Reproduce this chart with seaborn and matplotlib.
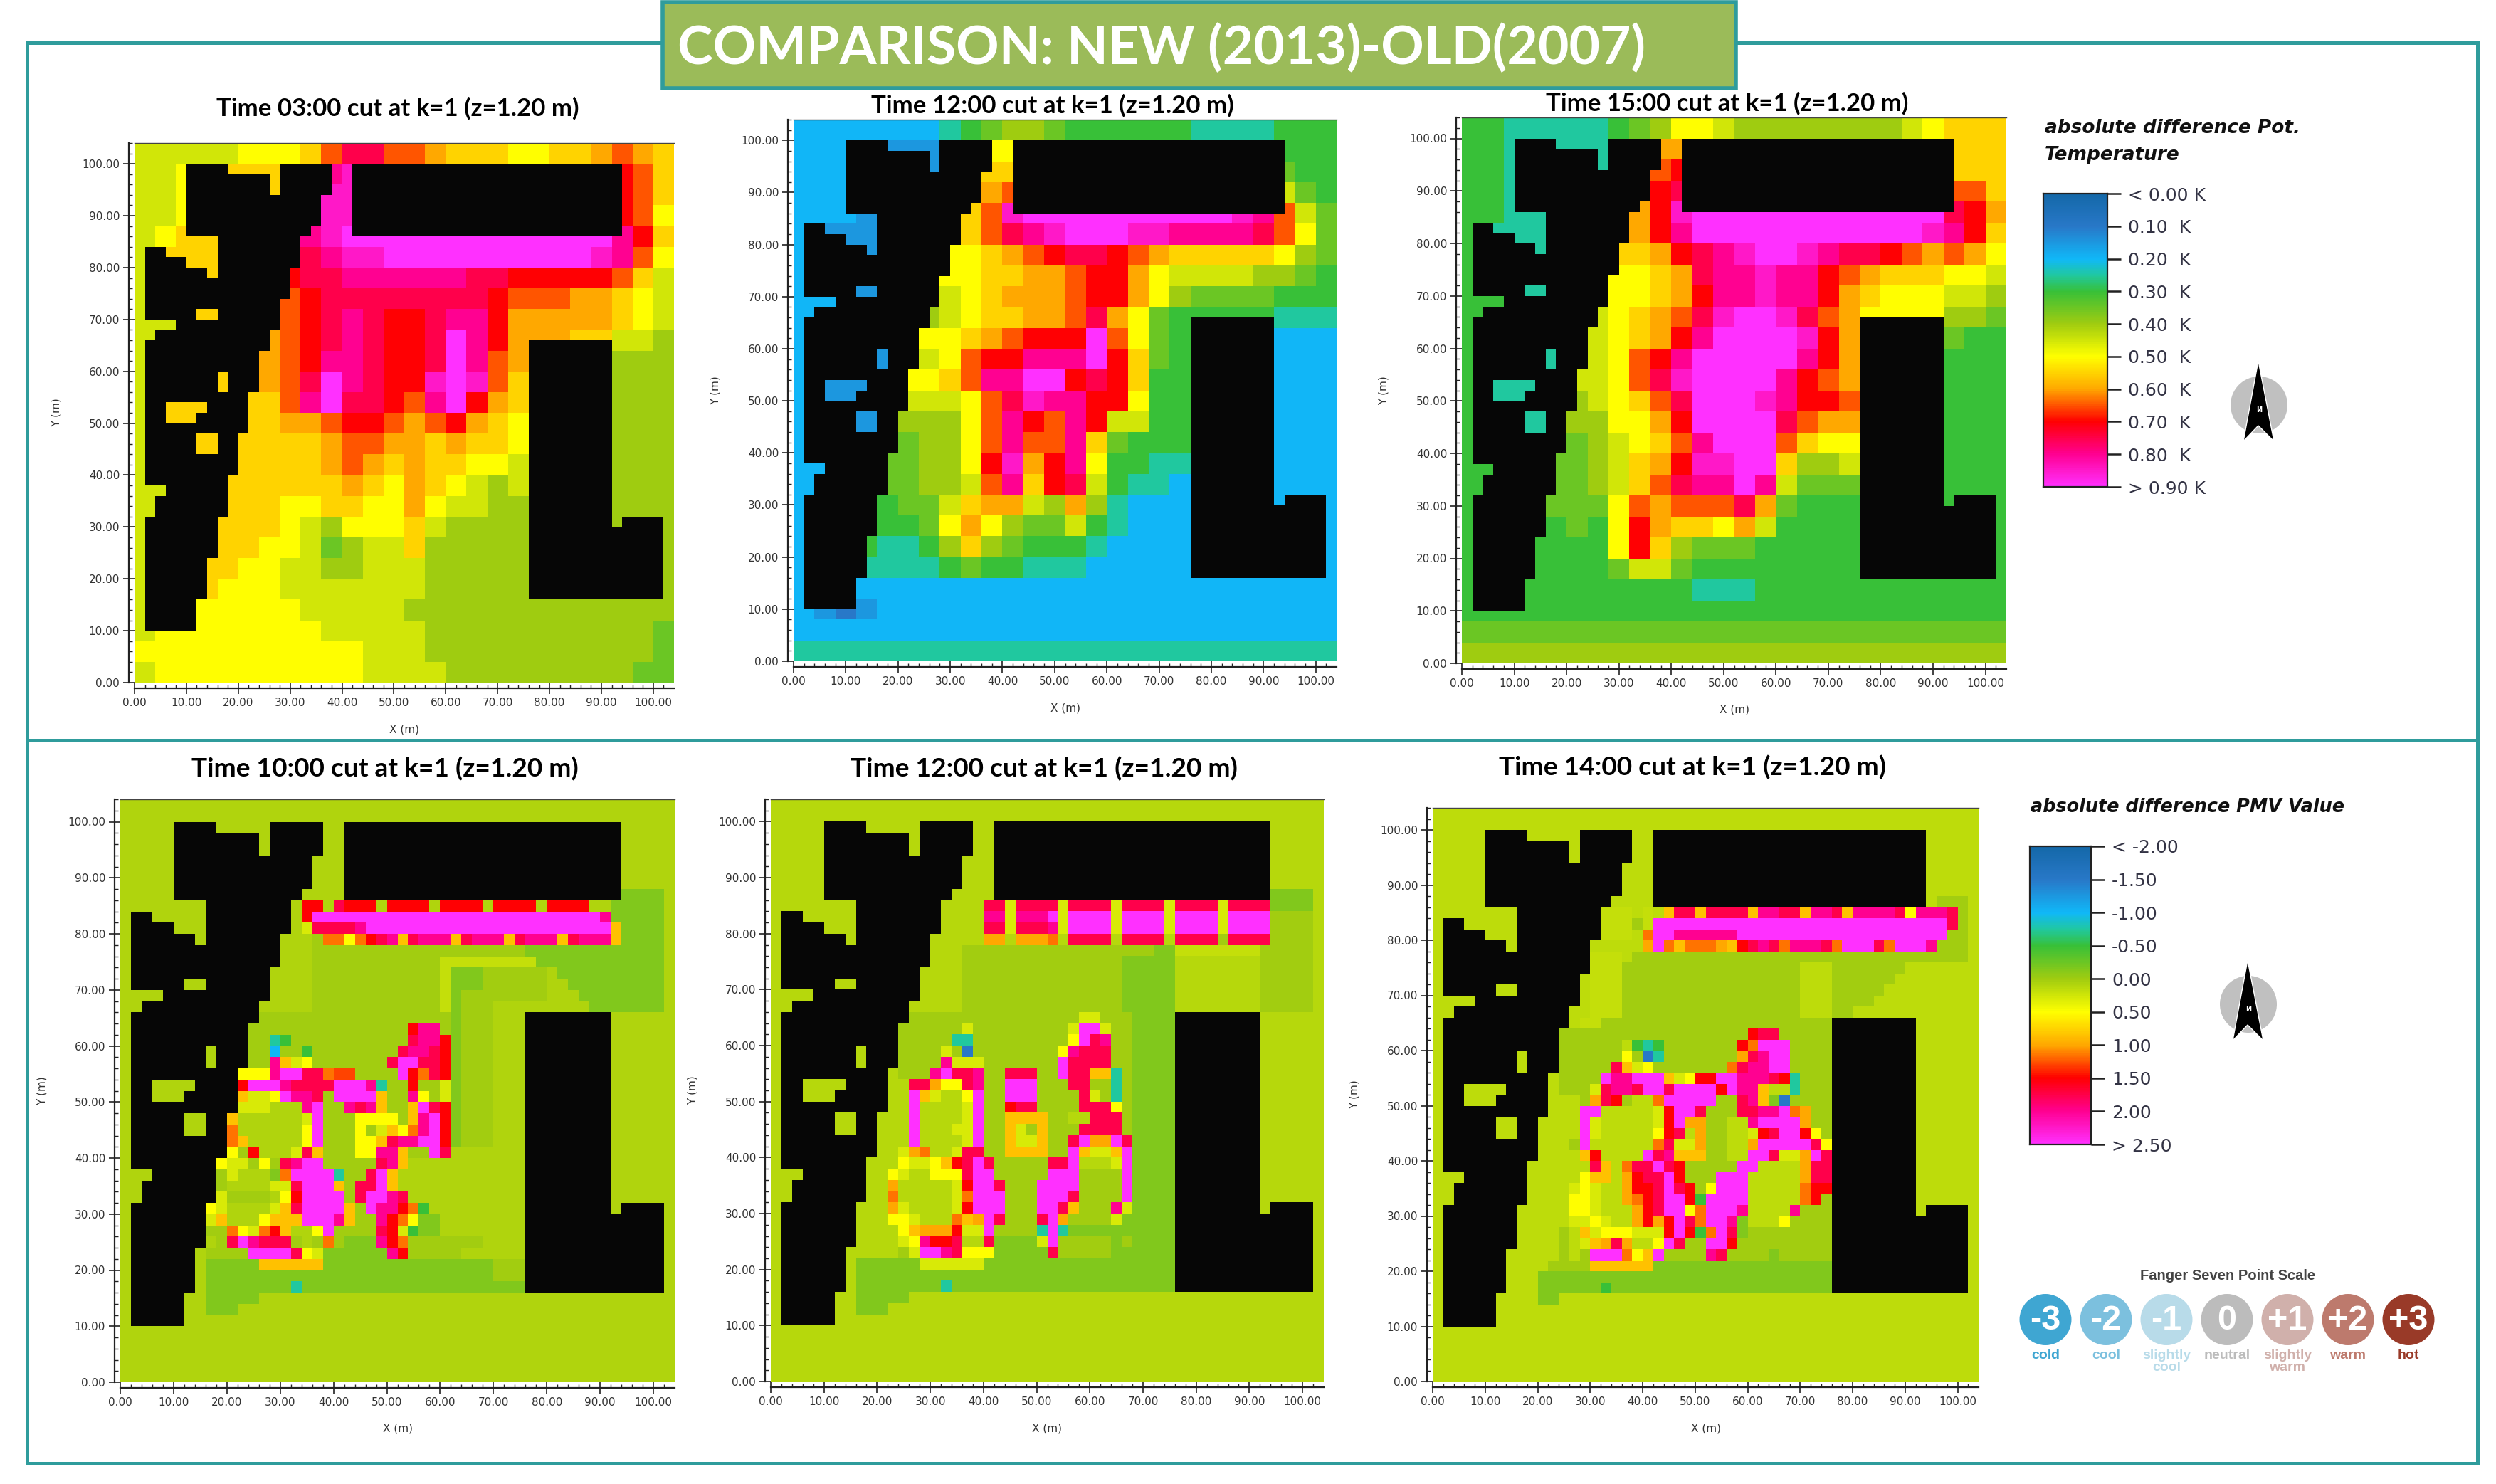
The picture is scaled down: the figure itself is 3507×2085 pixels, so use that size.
import numpy as np
import matplotlib
matplotlib.use("Agg")
import matplotlib.pyplot as plt
from matplotlib.colors import LinearSegmentedColormap
from matplotlib.patches import Rectangle, Circle, Ellipse, Polygon
import seaborn as sns

# building footprint, 2 m cells, row 0 is y=104..102, '#' is a building
building_rows = [
    "", "",
    ".....####. ....#####. .######### ########## #######",
    ".....##### ###.#####. .######### ########## #######",
    ".....##### ###.#####. .######### ########## #######",
    ".....##### ########.. .######### ########## #######",
    ".....##### ########.. .######### ########## #######",
    ".....##### ########.. .######### ########## #######",
    ".....##### #######... .######### ########## #######",
    "........## ######",
    ".##.....## ######",
    ".####...## ######",
    ".######.## #####",
    ".######### #####",
    ".######### #####",
    ".######### ####",
    ".#####..## ####",
    "....###### ####",
    "..######## ###",
    ".######### ###....... .......... ........## ######",
    ".######### ##........ .......... ........## ######",
    ".######### ##........ .......... ........## ######",
    ".#######.# ##........ .......... ........## ######",
    ".#######.# ##........ .......... ........## ######",
    ".######### #......... .......... ........## ######",
    ".##....### #......... .......... ........## ######",
    ".##...#### #......... .......... ........## ######",
    ".######### #......... .......... ........## ######",
    ".#####..## .......... .......... ........## ######",
    ".#####..## .......... .......... ........## ######",
    ".######### .......... .......... ........## ######",
    ".######### .......... .......... ........## ######",
    ".########. .......... .......... ........## ######",
    "...######. .......... .......... ........## ######",
    "..#######. .......... .......... ........## ######",
    "..#######. .......... .......... ........## ######",
    ".#######.. .......... .......... ........## ######.### #",
    ".#######.. .......... .......... ........## ########## #",
    ".#######.. .......... .......... ........## ########## #",
    ".#######.. .......... .......... ........## ########## #",
    ".######... .......... .......... ........## ########## #",
    ".######... .......... .......... ........## ########## #",
    ".######... .......... .......... ........## ########## #",
    ".######... .......... .......... ........## ########## #",
    ".#####", ".#####", ".#####",
    "", "", "", "", "",
]

# potential temperature difference, 4 m cells, a=0.00 K ... s=0.90 K in 0.05 steps
temp_letters = "abcdefghijklmnopqrs"

temp_0300 = [
    "jjjjj kkkln ppnnm lllkk llmnm l",
    "jjkll llllq rqqqq qqqqq qqqon l",
    "jjkll llllr rrqqq qqqqq qqqon l",
    "jjkll llllr rrqqq qqqqq qqqon k",
    "jklll lllqr sssss sssss sssqo l",
    "jllll lllpq rrsss sssss ssrqn k",
    "jllll llopp qqqqq qppoo ooonl j",
    "jllll llnop ppppp pponn nmmlk j",
    "jjlll llnop qpoop qqomm mmmlk j",
    "jjlll lmnop qpoop sqomm mlljj i",
    "jllll lmnoq qpoop sqnmk kkkii i",
    "jllll lmnps qpoor srnlk kkkii i",
    "jllll llnqs pponq somlk kkkii i",
    "jllll llmmn oonmn omlkk kkkii i",
    "jllll llllm nnmml mllkk kkkii i",
    "jllll llllm nmlml lkkjj jjjii i",
    "jjlll lllll mlkml kjijj jjjii i",
    "jjlll llkkl lkkmk jjiii iiiii i",
    "jllll llkji kkklj iiiii iiiii i",
    "jllll lkkjh ijjli iiiii iiiii i",
    "jllll kkjji ijjji iiiii iiiii i",
    "jlllk kkjjj jjjji iiiii iiiii i",
    "jkkkk kkkjj jjjii iiiii iiiii i",
    "jkkkk kkkkj jjjji iiiii iiiii h",
    "kkkkk kkkkk kjjji iiiii iiiii h",
    "jkkkk kkkkk kjjjj iiiii iiiih h",
]

temp_1200 = [
    "eeeee eefgh iihgg ggggf fffgg g",
    "eeedd ddddk kdddd ddddd dddgg g",
    "eeedd ddddl ldddd ddddd dddhg g",
    "eeedd ddddm ndddd ddddd dddjh g",
    "eeedd dddln rssss sssss srqnj h",
    "edddd dddln pqrss srrqq qqpnk h",
    "edddd ddkkl mnopp onmll lllki h",
    "edddd ddkkl lmmno omkjj jjiih g",
    "eeddd ddjkl mmmno omkih hhhgg g",
    "eeddd dijkl lmmnp mkhgg gggff f",
    "eeddd dkklm nooos nkhgg gggee e",
    "eeddd djkno oqqqs olhgg gggee e",
    "edddd kklnq qssop olggg gggee e",
    "edddd jjjkn prqqo okggg gggee e",
    "eeddd iiikn qonqo jjggg gggee e",
    "eeddd hiikn qnnql hgggg gggee e",
    "eeddh hiiko rmoqk ggffe gggee e",
    "eeddh hiijn qlopj gffee fffee e",
    "eeddg hhjlm mjimi feeee eeeee e",
    "eedgg ghkmk ihhjg feeee eeeee e",
    "eedgf fgili hgggf eeeee eeeee e",
    "eedff ffghg gfffe eeeee eeeee e",
    "eeeee eeeee eeeee eeeee eeeee e",
    "edcde eeeee eeeee eeeee eeeee e",
    "eeeee eeeee eeeee eeeee eeeee e",
    "fffff fffff fffff fffff fffff f",
]

temp_1500 = [
    "ggfff ffghi kkjii iiiii ijkll l",
    "ggfff ffffm mffff fffff fffll l",
    "ggfff ffffn offff fffff fffll l",
    "ggfff ffffo pffff fffff fffnn l",
    "ggfff fffmo rssss sssss ssspo m",
    "gffff fffmo qssss sssss ssrqo l",
    "gffff ffllm opqrs srqpp onmnm k",
    "gffff ffkkl mpqqr qqonm lllkk j",
    "ggfff ffkkl moqqr qqoml kkkjj i",
    "ggfff fjklm nprss rpnmk kkkii h",
    "ggfff fjklm oqsss sromk kkkhg g",
    "ggfff fjkno qssss sqomk kkkgg g",
    "gffff jjknp rssss qonmk kkkgg g",
    "gffff ijkln psssr qoonk kkkgg g",
    "ggfff iikkm ossss pnmmk kkkgg g",
    "ggfff hijkl nqsss nlkkk kkkgg g",
    "ggffh hijlm orrss liijk kkkgg g",
    "ggffh hijln pqqsq jhhhh hhhgg g",
    "gggfh hhknm nnnpm hgggh hhhgg g",
    "gggfg hgkom llkmj ggggg ggggg g",
    "ggggg ggkol ihhhg ggggg ggggg g",
    "ggggg gghjj hgggg ggggg ggggg g",
    "ggggg ggggg gfffg ggggg ggggg g",
    "ggggg ggggg ggggg ggggg ggggg g",
    "hhhhh hhhhh hhhhh hhhhh hhhhh h",
    "iiiii iiiii iiiii iiiii iiiii i",
]

# PMV difference, 2 m cells from x=16 and y=88 downwards, '.' is the panel's background value
pmv_codes = {",": 0.02, ":": -0.15, "L": 0.18, "l": 0.3, "y": 0.5, "g": 0.85, "a": 1.0, "o": 1.15, "n": 1.3,
             "r": 1.5, "h": 1.75, "p": 2.0, "m": 2.5, "G": -0.5, "t": -0.75, "b": -1.0, "B": -1.5}

pmv_1000 = [
    ".......... .......... .......... ........:: :::",
    ".........r r.hrrr.rrr r.rrrr.rrr r.rrrr..:: :::",
    ".........r mmmmmmmmmm mmmmmmmmmm mmmmmmmp:: :::",
    ".........l hhhhpmmmmm mmmmmmmmmm mmmmmmmmg: :::",
    ".......... ,ooyorhpgh pppghpppgh pppghpppg: :::",
    ".......... ,,,,,,,,,, ,,,,,,,,,, :::::::::: :::",
    ".......... ,,,,,,,,,, ,,LLLLLLLL L::::::::: :::",
    ".......... ,,,,,,,,,, ,,L:::,,,, ,,.::::::: :::",
    ".......... ,,,,,,,,,, ,,L:::,,,, ,,..:::::: :::",
    ".......... ,,,,,,,,,, ,,L:,,,,,, ,,...::::: :::",
    ".......... ,,,,,,,,,, ,,L:,,,... ......:::: :::",
    "....,,,,,, ,,,,,,,,,, ,,,:,,,",
    "....,,,,,, ,,,,,,,,,r pp,:,,,",
    "....,,tG,, ,,,,,,,,,h ppr:,,,",
    "....,,b,,G ,,,,,,,,hp phr:,,,",
    "....,,pgly ,,,,,,,hmm hhr:,,,",
    "...yyypmmh honn,,,,mr ohr:,,,",
    "...rmmmphh hhmmmpt,,r ,,l:,,,",
    "...gllympp h,mmmmg,,p y,l:,,,",
    "...lll...p m,,phpg,,g mhr:,,,",
    "..g......l m,,,yyyy,g pmr:,,,",
    "..o......y m,,,y,lgyo pmr:,,,",
    "..og.....y m,,,yyghpp mmr:,,,",
    "..y,r...lh g,,,yyppg, ,mh",
    ".yll,y,hpm m,,,,,hpg.",
    ".,l...:omm mmt,,hmg..",
    ".,....llhm mmg,hhmg..",
    ".l,,,,.yrm mmm,hmmph.",
    "yl....lghm mmmg,mppro G",
    "lg...ygggm mmpg,,proy ::",
    ",,oylorg.. ym,,,,hrlG ::",
    ".,hmphhh,. ,o,:::pro, ,,,,,,",
    ",,,,mmmmhy l::::::pr, ,,,,",
    ":::::ggggg g::::::::: :::::::,,,",
    ":::::::::: :::::::::: :::::::,,,",
    "::::::::t: :::::::::: ::::::::::",
    ":::::",
    ":::",
]

pmv_1200 = [
    ".......... .......... .......... .........: :::",
    ".......... ..hhlhhhhl hhhhlhhhhl hhhhlhhhh: :::",
    ".......... ..pplpppml mmmmlmmmml mmmmlmmmm, ,,,",
    ".......... ..hhlhhhpl mmmmlmmmml mmmmlmmmm, ,,,",
    ".......... ..aa.aaao. hhhh.hhhh. hhhh,hhhh, ,,,",
    ".......... ,,,,,,,,,, ,,,,,,,,:: LLLLLLLL,, ,,,",
    ".......... ,,,,,,,,,, ,,,,,::::: ........,, ,,,",
    ".......... ,,,,,,,,,, ,,,,,::::: ........,, ,,,",
    ".......... ,,,,,,,,,, ,,,,,::::: ........,, ,,,",
    ".......... ,,,,,,,,,, ,,,,,::::: ........,, ,,,",
    ".......... ,,,,,,,,,, ,,,,,::::: ........,, ,,,",
    "....,,,,,, ,,,,,,,,,, ,ll,,,::::",
    "....,,,,,, l,,,,,,,,, lmml,,::::",
    "....,,,,,t t,,,,,,,,, ymhp,,::::",
    "....,,,,l, B,,,,,,,,y phhh,,::::",
    "....,,,,pl ll,,,,,,,m hhhh,,::::",
    "....,,,pmh hp,,hhh,,m hhggt,::::",
    ".....hhayy hp,,mmm,,, hh,,t,::::",
    ".....mgl.. ym,,mmm,,, ,hl,t,::::",
    ".....m.... lm,,rhh,,, ,hhhy,::::",
    ".....m.... lm,,gggg,, ..hhh,::::",
    ".....m...l lm,,gl,g,, ,hhhh,::::",
    ".....m.... lm,,gllg,, hmaamh::::",
    "....lao..l hh,,gggg,, mgllgm::::",
    "....yllygr hmh,,,,,hh m...lm::::",
    "...yl..yyy hmm,,,,,mm m,,,,m::::",
    "...a.....l rmmh,,,mmm m,,,,m::::",
    "...o.....l ommm,,,mmm h,,,,m::::",
    "...al....l rmmm,,,mmh g,,,pl::::",
    "...yyl...o gamh,,,hma ,,,,l:::::",
    "....ygaaar llm,,,,tmt ::::::::::",
    "....lyprrh ..h::::lm, ,,,,:,::::",
    "....,lmmph yyy:::::h, ,,,,::::::",
    "::::::llll ll:::::::: ::::::::::",
    ":::::::::: :::::::::: ::::::::::",
    "::::::::t: :::::::::: ::::::::::",
    ":::::",
    ":::",
]

pmv_1400 = [
    ".......... .......... .......... .......... ,,,",
    "........LL L.L.ghhghh hhgpphhgpp hgpppphypp ph,",
    "........LL L,Lmmmmmmm mmmmmmmmmm mmmmmmmmmm mh,",
    "........LL L.ommppppp pmmmmmmmmm mmmmmmmmmm m,,",
    ".......... ..amogoooa grhphoppph ommmhommmp ,,,",
    ".......LLL .,,,,,,,,, ,,,,,,,,,, ,,,,,,,,,, ,,,",
    ".......LLL ,,,,,,,,,, ,,,,,,,... ,,,,,,,...",
    ".......LLL ,,,,,,,,,, ,,,,,,,... ,,,,,,....",
    ".......LLL ,,,,,,,,,, ,,,,,,,... ,,,,,.....",
    ".......LLL ,,,,,,,,,, ,,,,,,,... ,,,,......",
    ".......LLL ,,,,,,,,,, ,,,,,,,... ,,........",
    "......LL,, ,,,,,,,,,, ,,,,,,,,,,",
    "....,,,,,, ,,,,,,,,,, ,,rhh,,,,,",
    "....,,,,,, .GtG,,,,,, ,rommm,,,,",
    "....,,,,,, y,Bt,,,,,, ,ahpmm,,,,",
    "....,,,,,h gly,,,,,,, ohppmm,,,,",
    "....,,,,mp pmmmglyrrm mppphrt,,,",
    "....,,,lhp phmmhmmmmr mppg..t,,,",
    "......,ahr ,..ommmmm, ,hpg:B,,,,",
    "......mm.. ...lrmmh,, ,hhppmoa,,",
    "......ml.. ...lrmaa,, ..pmmmma,,",
    "......ml.. ...yrh.a,, ..lrhmmry,",
    ".....,m... ...ohlla,, ..ammmmmhy",
    "......gr.. ..mhpggg,, ..mmhllamh",
    ".......hg. ohhmhr,,,, ,mm....ahh",
    "......ygg. arhhmr,,,m mm.....ahh",
    ".....lyl.. arrhmhr,ym mm.....orr",
    ".....yyl.. aorhmmrGmm mm.....or,",
    ".....yyl.. .arhmmyomm mp....p,,,",
    ".....llyl. .ararmhomm p:...y,,,,",
    "....,.glyy ylllrmrGom h:,,,,,,,,",
    "....,.lgah a..ymh,,mm r,,,,,,,,,",
    "....,.,mmm oygm,,,,ph ,,,,:,,,,,",
    "...,,,,ggg ggg::::::: ::::::::::",
    "..:::::::: :::::::::: ::::::::::",
    "..::::::G: :::::::::: ::::::::::",
    "..::",
]

temp_labels = ["< 0.00 K", "0.10  K", "0.20  K", "0.30  K", "0.40  K", "0.50  K", "0.60  K", "0.70  K", "0.80  K", "> 0.90 K"]
pmv_labels = ["< -2.00", "-1.50", "-1.00", "-0.50", "0.00", "0.50", "1.00", "1.50", "2.00", "> 2.50"]
axis_ticks = [0, 10, 20, 30, 40, 50, 60, 70, 80, 90, 100]

fanger_values = ["-3", "-2", "-1", "0", "+1", "+2", "+3"]
fanger_names = ["cold", "cool", "slightly\ncool", "neutral", "slightly\nwarm", "warm", "hot"]
fanger_colors = ["#3fa6d2", "#7cc0de", "#b8dbe9", "#bcbcbc", "#d0b0ab", "#bd7a6d", "#993a28"]

W, H = 3507, 2085
sns.set_style("white")
plt.rcParams["font.family"] = ["DejaVu Sans"]

envi_cmap = LinearSegmentedColormap.from_list("envimet", [
    (0.0, "#1468a8"), (1 / 9, "#2878c8"), (2 / 9, "#10b8f8"), (2.5 / 9, "#20c8a0"),
    (3 / 9, "#38c038"), (4 / 9, "#a0cc10"), (5 / 9, "#ffff00"), (6 / 9, "#ffa800"),
    (7 / 9, "#ff0000"), (8 / 9, "#ff0090"), (1.0, "#ff30ff")])


def parse(rows):
    return [r.replace(" ", "") for r in rows]


building_mask = np.array([list(r.ljust(52, ".")) for r in parse(building_rows)]) == "#"


def temp_grid(rows):
    coarse = np.array([[temp_letters.index(c) * 0.05 for c in r] for r in parse(rows)])
    return np.repeat(np.repeat(coarse, 2, axis=0), 2, axis=1)


def pmv_grid(rows, base):
    grid = np.full((52, 52), base)
    for i, row in enumerate(parse(rows)):
        for j, c in enumerate(row):
            if c != ".":
                grid[8 + i, 8 + j] = pmv_codes[c]
    return grid


def add_px_axes(fig, x0, y0, x1, y1):
    return fig.add_axes([x0 / W, 1 - y1 / H, (x1 - x0) / W, (y1 - y0) / H])


def draw_panel(fig, rect, grid, vmin, vmax):
    ax = add_px_axes(fig, *rect)
    ax.set_facecolor("#060606")
    sns.heatmap(grid, mask=building_mask, cmap=envi_cmap, vmin=vmin, vmax=vmax, cbar=False,
                xticklabels=False, yticklabels=False, ax=ax)
    ax.set_xticks([t / 2 for t in axis_ticks])
    ax.set_xticklabels(["%.2f" % t for t in axis_ticks], rotation=0)
    ax.set_yticks([(104 - t) / 2 for t in axis_ticks])
    ax.set_yticklabels(["%.2f" % t for t in axis_ticks], rotation=0)
    ax.set_xticks(np.arange(0, 52, 1), minor=True)
    ax.set_yticks(np.arange(0, 52, 1), minor=True)
    ax.tick_params(which="major", direction="inout", length=12, width=1.2, color="#222222",
                   labelsize=11, labelcolor="#333333", pad=3, left=True, bottom=True)
    ax.tick_params(which="minor", direction="in", length=3.5, width=1, color="#222222", left=True, bottom=True)
    for side in ["left", "bottom"]:
        ax.spines[side].set_visible(True)
        ax.spines[side].set_position(("outward", 6))
        ax.spines[side].set_linewidth(1.6)
        ax.spines[side].set_color("#222222")
    ax.spines["top"].set_visible(True)
    ax.spines["top"].set_linewidth(1)
    ax.spines["top"].set_color("#444444")
    ax.spines["right"].set_visible(False)
    ax.set_xlabel("X (m)", fontsize=11, color="#333333")
    ax.set_ylabel("Y (m)", fontsize=11, color="#333333")
    w, h = rect[2] - rect[0], rect[3] - rect[1]
    ax.xaxis.set_label_coords(0.5, -58 / h)
    ax.yaxis.set_label_coords(-102 / w, 0.5)
    return ax


def draw_legend(fig, rect, labels):
    ax = add_px_axes(fig, *rect)
    gradient = np.linspace(0, 1, 256).reshape(-1, 1)
    sns.heatmap(gradient, cmap=envi_cmap, vmin=0, vmax=1, cbar=False, xticklabels=False, yticklabels=False, ax=ax)
    ax.yaxis.tick_right()
    ax.set_yticks(np.linspace(0, 256, 10))
    ax.set_yticklabels(labels, rotation=0)
    ax.tick_params(axis="y", right=True, left=False, length=14, width=1.8, color="#222222",
                   labelsize=18, labelcolor="#333344", pad=7)
    for s in ax.spines.values():
        s.set_visible(True)
        s.set_linewidth(1.6)
        s.set_color("#222222")


fig = plt.figure(figsize=(W / 100, H / 100), dpi=100, facecolor="white")

draw_panel(fig, (189, 201, 947, 959), temp_grid(temp_0300), 0, 0.9)
draw_panel(fig, (1115, 168, 1878, 929), temp_grid(temp_1200), 0, 0.9)
draw_panel(fig, (2054, 165, 2819, 932), temp_grid(temp_1500), 0, 0.9)
draw_panel(fig, (169, 1123, 948, 1942), pmv_grid(pmv_1000, 0.08), -2, 2.5)
draw_panel(fig, (1083, 1123, 1860, 1941), pmv_grid(pmv_1200, 0.12), -2, 2.5)
draw_panel(fig, (2013, 1135, 2780, 1941), pmv_grid(pmv_1400, 0.15), -2, 2.5)

draw_legend(fig, (2871, 272, 2961, 684), temp_labels)
draw_legend(fig, (2852, 1189, 2938, 1608), pmv_labels)

# everything that sits on top of the panels, in picture pixels
over = fig.add_axes([0, 0, 1, 1], zorder=10)
over.set_xlim(0, W)
over.set_ylim(H, 0)
over.axis("off")

teal = "#2f9c9c"
over.add_patch(Rectangle((38, 60), 3443, 1996, fill=False, edgecolor=teal, linewidth=3.6))
over.plot([38, 3481], [1040, 1040], color=teal, linewidth=3.6)
over.add_patch(Rectangle((931, 3), 1508, 121, facecolor="#9bbb59", edgecolor=teal, linewidth=4, zorder=3))
over.text(952, 68, "COMPARISON: NEW (2013)-OLD(2007)", fontsize=54, fontweight="bold", family="Lato",
          color="white", ha="left", va="center", zorder=4)

titles = [("Time 03:00 cut at k=1 (z=1.20 m)", 559, 152, 25), ("Time 12:00 cut at k=1 (z=1.20 m)", 1479, 148, 25),
          ("Time 15:00 cut at k=1 (z=1.20 m)", 2427, 145, 25), ("Time 10:00 cut at k=1 (z=1.20 m)", 541, 1080, 26.7),
          ("Time 12:00 cut at k=1 (z=1.20 m)", 1467, 1080, 26.7), ("Time 14:00 cut at k=1 (z=1.20 m)", 2378, 1078, 26.7)]
for txt, x, y, size in titles:
    over.text(x, y, txt, fontsize=size, fontweight="bold", family="Lato", color="black", ha="center", va="center")

over.text(2873, 180, "absolute difference Pot.", fontsize=19, fontweight="bold", style="italic", color="#111111", va="center")
over.text(2873, 218, "Temperature", fontsize=19, fontweight="bold", style="italic", color="#111111", va="center")
over.text(2853, 1134, "absolute difference PMV Value", fontsize=18.4, fontweight="bold", style="italic", color="#111111", va="center")

for cx, cy in [(3174, 569), (3159, 1411)]:
    over.add_patch(Circle((cx, cy), 40, facecolor="#c0c0c0", edgecolor="none"))
    over.add_patch(Polygon([(cx - 1, cy - 62), (cx - 22, cy + 51), (cx - 1, cy + 29), (cx + 21, cy + 51)], facecolor="black"))
    over.text(cx, cy + 7, "И", fontsize=7, fontweight="bold", color="white", ha="center", va="center")

over.text(3130, 1793, "Fanger Seven Point Scale", fontsize=14.5, fontweight="bold", family="Liberation Sans",
          color="#444444", ha="center", va="center")
fanger_x = [2874, 2959, 3044, 3129, 3214, 3299, 3384]
for x, val, name, col in zip(fanger_x, fanger_values, fanger_names, fanger_colors):
    over.add_patch(Ellipse((x, 1854), 73, 72, facecolor=col, edgecolor="none"))
    over.text(x, 1855, val, fontsize=35, fontweight="bold", family="Liberation Sans", color="white", ha="center", va="center")
    over.text(x, 1896, name, fontsize=14, fontweight="bold", family="Liberation Sans", color=col, ha="center", va="top",
              linespacing=1.0)

fig.savefig("out.png", dpi=100, facecolor="white")
